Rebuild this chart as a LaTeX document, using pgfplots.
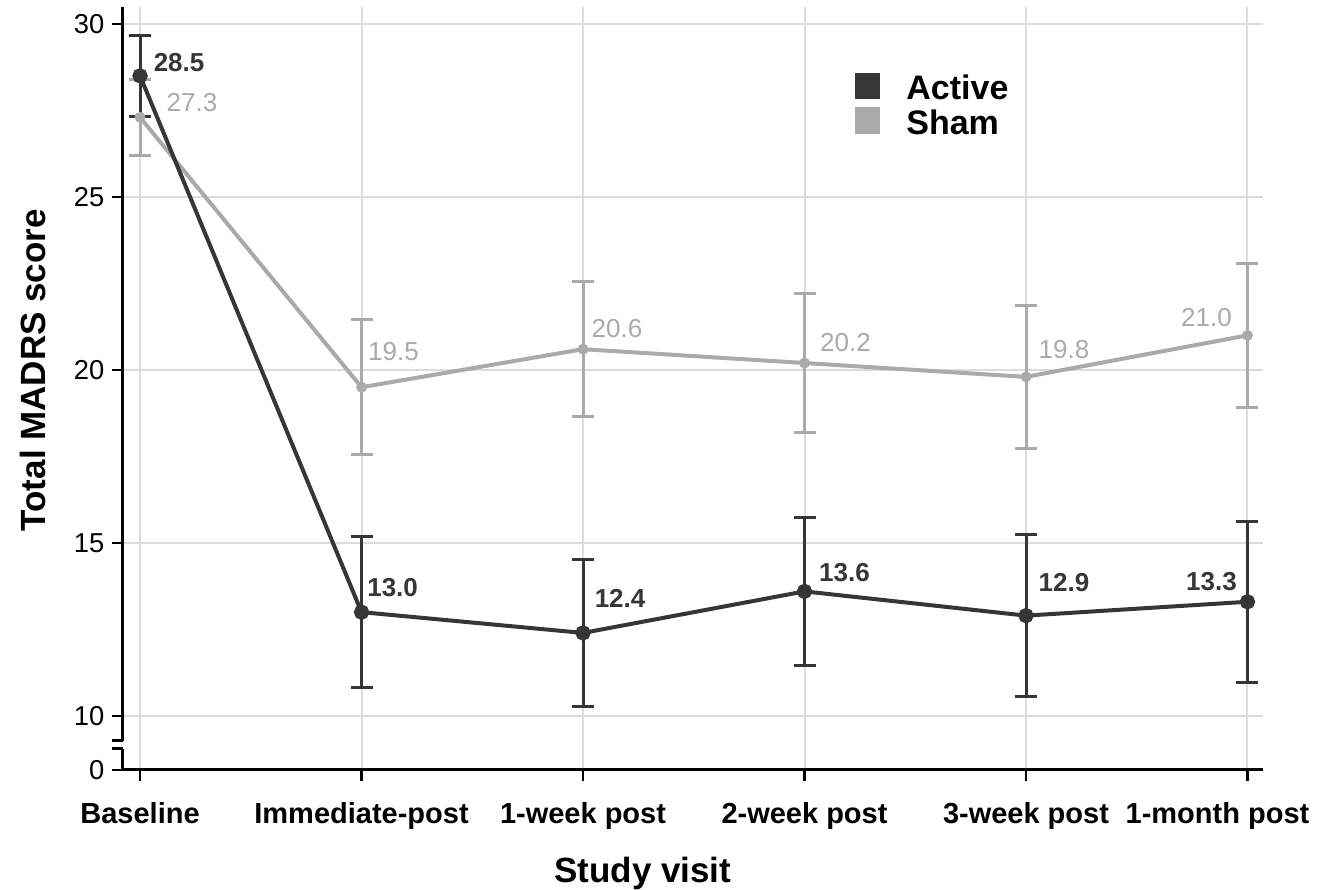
\documentclass[border=0pt]{standalone}
\usepackage{pgfplots}
\usepackage{pgfplotstable}
\pgfplotsset{compat=1.18}
\usepackage{fontspec}
\setmainfont{Liberation Sans}

\definecolor{activecol}{HTML}{363636}
\definecolor{shamcol}{HTML}{AAAAAA}
\definecolor{gridcol}{HTML}{DCDCDC}

% visit index, mean, error
\pgfplotstableread{
x y e
0 28.5 1.17
1 13.0 2.18
2 12.4 2.12
3 13.6 2.13
4 12.9 2.34
5 13.3 2.33
}\activedata

\pgfplotstableread{
x y e
0 27.3 1.10
1 19.5 1.95
2 20.6 1.95
3 20.2 2.00
4 19.8 2.06
5 21.0 2.08
}\shamdata

\begin{document}
\begin{tikzpicture}
\begin{axis}[
    scale only axis,
    width=342pt,
    height=228.9pt,
    xmin=-0.077, xmax=5.07,
    ymin=8.439, ymax=30.49,
    axis lines=left,
    axis line style={-, line width=0.9pt, black},
    xtick={0,1,2,3,4,5},
    xticklabels={Baseline,Immediate-post,1-week post,2-week post,3-week post,{1-month post\hspace*{18pt}}},
    ytick={8.439,10,15,20,25,30},
    yticklabels={0,10,15,20,25,30},
    tick align=outside,
    major tick length=3.3pt,
    tick style={black, line width=0.7pt},
    grid=major,
    grid style={gridcol, line width=0.6pt},
    /pgf/number format/assume math mode=true,
    xticklabel style={font=\bfseries\fontsize{8.7}{10}\selectfont, yshift=-2.8pt},
    yticklabel style={font=\fontsize{8.2}{10}\selectfont, xshift=1.2pt},
    xlabel={Study visit},
    ylabel={Total MADRS score},
    label style={font=\bfseries\fontsize{10.5}{12}\selectfont},
    xlabel style={at={(axis description cs:0.456,-0.135)}, anchor=center},
    ylabel style={at={(axis description cs:-0.079,0.524)}, anchor=center, rotate=0},
    clip=false,
    legend style={at={(axis cs:3.18,28.8)}, anchor=north west, draw=none, fill=none,
        font=\bfseries\fontsize{10.2}{12}\selectfont, row sep=2.2pt,
        nodes={inner sep=0pt, text height=7.5pt, text depth=0pt},
        /tikz/every odd column/.append style={column sep=7.8pt}},
    legend cell align=left,
]

% axis break on the y axis
\fill[white] ([xshift=-2pt]axis cs:-0.077,9.046) rectangle ([xshift=2pt]axis cs:-0.077,9.277);
\draw[line width=0.9pt] ([xshift=-3.3pt]axis cs:-0.077,9.046) -- (axis cs:-0.077,9.046);
\draw[line width=0.9pt] ([xshift=-3.3pt]axis cs:-0.077,9.277) -- (axis cs:-0.077,9.277);

\addlegendimage{legend image code/.code={\fill[activecol] (0pt,-3.4pt) rectangle (7.2pt,4.2pt);}}
\addlegendentry{Active}
\addlegendimage{legend image code/.code={\fill[shamcol] (0pt,-3.4pt) rectangle (7.2pt,4.2pt);}}
\addlegendentry{Sham}

\addplot[shamcol, line width=1.2pt, mark=*, mark size=1.0pt, forget plot,
    error bars/.cd, y dir=both, y explicit,
    error bar style={line width=0.9pt, shamcol},
    error mark options={rotate=90, mark size=3.3pt, line width=0.9pt, shamcol}]
    table[x=x, y=y, y error=e] {\shamdata};

\addplot[activecol, line width=1.2pt, mark=*, mark size=1.7pt, forget plot,
    error bars/.cd, y dir=both, y explicit,
    error bar style={line width=0.9pt, activecol},
    error mark options={rotate=90, mark size=3.3pt, line width=0.9pt, activecol}]
    table[x=x, y=y, y error=e] {\activedata};

% value labels
\begin{scope}[every node/.style={font=\bfseries\fontsize{7.8}{9}\selectfont, text=activecol, inner sep=0pt}]
\node[anchor=west] at (axis cs:0.059,28.87) {28.5};
\node[anchor=west] at (axis cs:1.023,13.70) {13.0};
\node[anchor=west] at (axis cs:2.050,13.41) {12.4};
\node[anchor=west] at (axis cs:3.063,14.13) {13.6};
\node[anchor=west] at (axis cs:4.054,13.87) {12.9};
\node[anchor=east] at (axis cs:4.955,13.87) {13.3};
\end{scope}
\begin{scope}[every node/.style={font=\fontsize{7.8}{9}\selectfont, text=shamcol, inner sep=0pt}]
\node[anchor=west] at (axis cs:0.117,27.72) {27.3};
\node[anchor=west] at (axis cs:1.027,20.52) {19.5};
\node[anchor=west] at (axis cs:2.036,21.21) {20.6};
\node[anchor=west] at (axis cs:3.068,20.78) {20.2};
\node[anchor=west] at (axis cs:4.054,20.58) {19.8};
\node[anchor=east] at (axis cs:4.932,21.50) {21.0};
\end{scope}
\end{axis}
\pgfresetboundingbox
\path[use as bounding box] (-36.9pt,-36pt) rectangle (363pt,231pt);
\end{tikzpicture}
\end{document}
